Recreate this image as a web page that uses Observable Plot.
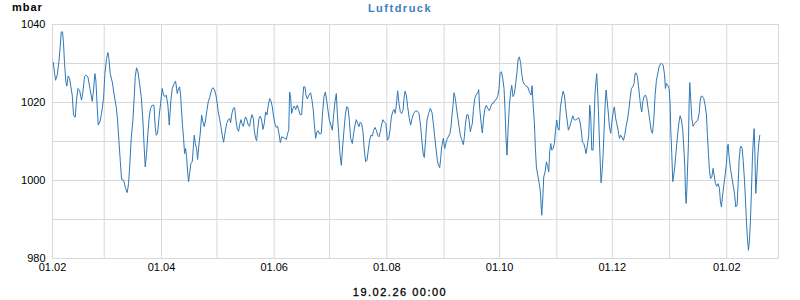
<!DOCTYPE html>
<html><head><meta charset="utf-8">
<script src="https://cdn.jsdelivr.net/npm/d3@7"></script>
<script src="https://cdn.jsdelivr.net/npm/@observablehq/plot@0.6"></script>
<style>
body{margin:0;background:#fff;}
#wrap{position:relative;width:800px;height:300px;font-family:"Liberation Sans",Arial,sans-serif;color:#000;}
#title{position:absolute;left:0;width:800px;top:2px;text-align:center;font-weight:bold;font-size:11px;letter-spacing:1.5px;color:#3d7ebf;}
#unit{position:absolute;left:12px;top:1px;font-weight:bold;font-size:11px;letter-spacing:1px;}
#caption{position:absolute;left:0;width:800px;top:286px;text-align:center;font-size:11px;letter-spacing:1.5px;-webkit-text-stroke:0.3px #000;}
#chart{position:absolute;left:0;top:0;}
#chart svg text{-webkit-text-stroke:0.3px #000;}
</style></head>
<body>
<div id="wrap">
  <div id="chart"></div>
  <div id="title">Luftdruck</div>
  <div id="unit">mbar</div>
  <div id="caption">19.02.26 00:00</div>
</div>
<script>
// Readings: [days since 01.02.2025, pressure in mbar]
const febMar = [[0.38,1030.3],[1.64,1025.7],[2.55,1027],[3.45,1030.4],[4.17,1034.3],[4.71,1038.1],[5.43,1038.1],[5.97,1035.1],[6.52,1030],[7.24,1025.3],[7.78,1024.2],[8.50,1026.8],[9.22,1026.2],[9.94,1024],[10.67,1021.9],[11.39,1016.8],[12.29,1016.2],[13.01,1020.6],[13.74,1023.6],[14.64,1023.2],[15.72,1020.6],[16.44,1022.7],[17.35,1026.6],[18.07,1027],[19.15,1026.6],[20.41,1023.2],[21.50,1020.3],[22.22,1023.2],[22.94,1027.4],[23.48,1025.7],[24.20,1018.9],[24.75,1014.2],[25.65,1015],[26.55,1017.2],[27.63,1021],[28.36,1027.4],[29.26,1031.3],[29.98,1032.8],[30.52,1031.3],[31.24,1027.4],[32.33,1025.3],[33.41,1021.9],[34.49,1018.9],[35.22,1015.5],[35.94,1010.3],[36.66,1005.2],[37.38,1000.3],[38.47,1000.1],[39.55,998],[40.45,996.9],[41.17,999.2],[41.89,1004.4],[42.62,1010.8],[43.52,1015.5],[44.24,1021.5],[44.78,1026.6],[45.51,1028.9],[46.23,1027.9],[47.13,1024.9],[48.03,1021.5],[48.93,1015.5],[49.66,1008.2],[50.20,1003.5],[50.92,1006.9],[51.64,1012.1],[52.36,1016.3],[53.09,1018.5],[53.99,1019.3],[54.89,1019.3],[55.61,1013.8],[56.16,1011.6],[56.88,1012.1],[57.78,1016.8],[58.50,1019.7],[59.40,1023.6],[60.13,1021.9],[60.85,1021.5],[61.57,1021.9],[62.47,1019.3]];
const aprMay = [[63.20,1014.2],[64.10,1020.6],[64.82,1023.6],[65.72,1024.7],[66.63,1025.5],[67.53,1022.3],[68.25,1023.6],[68.79,1024],[69.34,1021.9],[69.88,1017.6],[70.42,1013.8],[70.96,1010.8],[71.50,1006.9],[72.04,1008.2],[72.58,1006.1],[73.13,1002.2],[73.67,999.7],[74.21,1001.8],[74.93,1004.4],[75.65,1004.8],[76.19,1008.2],[76.74,1011.6],[77.28,1009.5],[78.0,1008.2],[78.54,1005.4],[79.26,1009.1],[79.99,1012.1],[80.71,1016.8],[81.43,1015],[82.15,1013.8],[82.87,1015.5],[83.59,1018],[84.32,1020.2],[85.22,1021.5],[86.12,1023.3],[86.84,1023.8],[87.75,1023.2],[88.47,1021.9],[89.19,1019.7],[89.73,1017.6],[90.45,1015.9],[91.18,1013.8],[91.90,1011.6],[92.62,1009.8],[93.34,1012.1],[94.25,1014.6],[95.15,1015.6],[95.87,1015.9],[96.41,1014.8],[97.13,1017.2],[97.86,1018.5],[98.58,1018.7],[99.30,1015.5],[100.02,1013.3],[100.74,1012.6],[101.29,1014.2],[102.01,1015.6],[102.55,1014.6],[103.27,1013.9],[103.99,1015.5],[104.53,1016.3],[105.26,1015.5],[105.98,1014.2],[106.70,1013.9],[107.24,1015.5],[107.96,1016.9],[108.69,1015.9],[109.23,1012.9],[109.95,1010.8],[110.49,1010.2],[111.03,1012.9],[111.75,1015.9],[112.48,1016.5],[113.20,1015.5],[113.92,1013.1],[114.64,1014.6],[115.37,1017.6],[116.09,1016.8],[116.81,1019.3],[117.53,1021],[118.25,1020.4],[118.98,1018.9],[119.70,1016.3],[120.42,1014.6],[121.14,1013.6],[121.86,1013.9],[122.59,1012.1],[123.31,1009.7],[124.03,1011.2],[124.93,1011],[125.83,1010.8],[126.56,1010.5],[127.28,1012.1],[127.9,1013]];
const junJul = [[128.36,1022.7],[128.90,1021.3],[129.45,1017.2],[130.17,1018.5],[130.89,1019.1],[131.61,1018.2],[132.51,1019.3],[133.24,1018.2],[133.96,1016.9],[134.86,1016.9],[135.40,1020.6],[135.94,1024],[136.67,1024],[137.21,1021.9],[137.93,1020.9],[138.83,1021.9],[139.73,1022.5],[140.46,1020.6],[141.18,1018],[141.72,1014.6],[142.44,1010.8],[143.16,1012.5],[143.89,1012.7],[144.61,1011.9],[145.51,1012.1],[146.23,1017.6],[146.95,1021.5],[147.68,1022.7],[148.40,1020.6],[149.12,1018],[149.84,1015.5],[150.75,1014.2],[151.47,1012.9],[152.19,1016.8],[152.91,1020.2],[153.63,1022.3],[154.17,1017.2],[154.90,1012.1],[155.62,1006.9],[156.34,1003.9],[157.06,1008.6],[157.79,1012.9],[158.51,1016.8],[159.23,1018.9],[159.95,1018.7],[160.67,1015.5],[161.40,1010.8],[162.30,1009.5],[163.02,1012.1],[163.74,1014.2],[164.46,1015.6],[165.19,1014.6],[165.91,1013.8],[166.63,1015],[167.35,1014.6],[168.07,1012.5],[168.80,1007.8],[169.52,1004.8],[170.24,1005.2],[170.96,1007.8],[171.68,1010.3],[172.41,1011.6],[173.13,1011.4],[173.85,1012.9],[174.57,1013.6],[175.29,1012.9],[176.02,1011.6],[176.74,1011.2],[177.46,1012.5],[178.18,1014.4],[178.90,1015.6],[179.63,1015],[180.53,1014.6],[181.25,1010.3],[181.97,1010.8],[182.70,1012.9],[183.42,1016.3],[184.14,1017.6],[184.86,1018.2],[185.58,1017.2],[186.31,1020.2],[186.85,1023],[187.57,1019.7],[188.29,1017.6],[189.01,1017.2],[189.74,1018],[190.28,1021],[190.82,1022.9],[191.54,1021.9],[192.26,1018.9]];
const augSep = [[193.16,1015.9],[193.88,1014.2],[194.61,1015.9],[195.51,1017.2],[196.41,1017.8],[197.49,1017.8],[198.40,1017.2],[199.30,1013.8],[200.02,1009.9],[200.74,1006.5],[201.28,1005.9],[202.01,1010.8],[202.73,1015.5],[203.63,1017.2],[204.53,1018.5],[205.44,1017.4],[206.16,1014.6],[206.88,1011.2],[207.60,1008.2],[208.32,1005.2],[208.87,1003.9],[209.59,1003.3],[210.13,1005.6],[210.67,1008.6],[211.57,1010.8],[212.30,1008.2],[213.02,1009.7],[213.74,1010.8],[214.46,1011.4],[215.18,1012.1],[215.73,1013.8],[216.27,1016.8],[216.81,1019.3],[217.35,1022.5],[218.07,1021],[218.61,1018.9],[219.34,1016.3],[220.06,1013.8],[220.78,1011.6],[221.50,1010.5],[222.40,1009.2],[222.95,1011.2],[223.49,1014.2],[224.21,1016.8],[224.93,1016.9],[225.47,1015.5],[226.20,1012.5],[226.74,1013.8],[227.28,1014.6],[227.82,1018],[228.54,1021],[229.26,1021.9],[230.17,1022.5],[230.71,1023.3],[231.25,1018.5],[231.97,1015],[232.69,1012.2],[233.42,1016.3],[234.14,1018.5],[234.86,1019.3],[235.58,1018.5],[236.48,1017.9],[237.21,1018.9],[237.93,1019.7],[238.83,1019.9],[239.55,1020.6],[240.27,1020.8],[241.00,1021.6],[241.72,1023.6],[242.26,1027.4],[242.98,1027.9],[243.70,1026.2],[244.43,1023.6],[244.97,1018],[245.51,1010.8],[246.05,1006.5],[246.59,1012.9],[247.31,1019.3],[248.04,1022.7],[248.58,1024.4],[249.30,1021.5],[250.02,1022.3],[250.74,1024.9],[251.47,1027.9],[252.01,1030.9],[252.73,1031.7],[253.45,1030],[253.99,1027.4],[254.72,1025.3],[255.44,1024.6],[256.34,1024.2],[257.24,1024]];
const octNov = [[258.33,1022.5],[259.05,1021.9],[259.60,1024.3],[260.14,1019.7],[260.86,1014.6],[261.40,1008.2],[261.94,1003.5],[262.66,1001.4],[263.39,999.5],[264.11,997.1],[264.47,993.7],[264.83,991.1],[265.37,995],[265.91,1000.9],[266.64,1002.2],[267.36,1004.8],[268.08,1003.5],[268.62,1002.2],[269.16,1007.4],[269.70,1009.5],[270.25,1007.8],[270.97,1008.2],[271.69,1009.5],[272.23,1012.5],[272.95,1015.5],[273.49,1013.6],[274.22,1012.9],[274.94,1018.7],[275.66,1021],[276.38,1022.9],[277.10,1021.9],[277.83,1018.5],[278.55,1015.5],[279.27,1012.9],[279.99,1013.8],[280.72,1015],[281.62,1016.6],[282.34,1015.6],[283.24,1015.5],[283.96,1015.8],[284.87,1016.1],[285.59,1015],[286.31,1012.5],[286.85,1009.9],[287.57,1009.5],[288.30,1008.2],[288.84,1006.9],[289.56,1009.1],[290.28,1011.6],[290.82,1019.3],[291.37,1016.3],[291.91,1007.8],[292.63,1007.8],[293.17,1015.5],[293.71,1022.7],[294.25,1025.7],[294.61,1027.4],[294.98,1024],[295.52,1018],[296.06,1010.3],[296.60,1003.5],[296.96,999.4],[297.50,1002.2],[298.04,1006.5],[298.59,1012.9],[299.13,1019.3],[299.67,1023.2],[300.21,1020.6],[300.75,1018],[301.47,1013.8],[302.20,1012.1],[302.92,1015.5],[303.64,1018],[304.18,1018.9],[304.72,1016.3],[305.44,1014.6],[306.17,1012.9],[306.89,1010.8],[307.61,1011.6],[308.33,1011],[309.06,1010.3],[309.78,1011.6],[310.50,1013.9],[311.22,1015.5],[311.94,1018],[312.67,1021],[313.39,1023.6],[314.11,1024],[314.83,1024.9],[315.37,1027.4],[315.92,1027.6],[316.64,1026.6],[317.18,1024.4],[317.90,1021],[318.44,1018.9],[318.98,1017.6],[319.53,1020.2],[320.25,1021.6],[320.97,1021.9],[321.69,1021],[322.41,1018.5]];
const decFeb = [[323.31,1015.5],[324.03,1012.9],[324.76,1012.1],[325.48,1015.5],[326.20,1021.9],[326.92,1025.7],[327.64,1027.4],[328.37,1029.1],[329.09,1029.9],[329.81,1030],[330.53,1029.6],[331.25,1027.4],[331.80,1023.6],[332.34,1024.9],[333.06,1024.4],[333.78,1023.6],[334.32,1019.7],[334.68,1012.9],[335.23,1006.9],[335.77,999.7],[336.31,1001.4],[336.85,1003.5],[337.39,1006.5],[337.93,1009.5],[338.47,1012.1],[339.02,1014.6],[339.74,1016.6],[340.46,1015.5],[341.18,1012.9],[341.72,1008.6],[342.27,1003.5],[342.63,997.5],[342.99,994.1],[343.35,997.1],[343.71,1002.2],[344.25,1009.5],[344.61,1019.7],[344.97,1025.1],[345.51,1020.6],[346.06,1015.9],[346.78,1013.9],[347.50,1014.6],[348.40,1015],[349.31,1015.5],[350.03,1017.2],[350.57,1020.2],[351.11,1021.6],[351.83,1021.6],[352.55,1021],[353.28,1019.3],[354.00,1016.8],[354.54,1011.6],[355.08,1006.9],[355.62,1002.6],[356.16,1000.5],[356.89,1000.9],[357.61,1003.1],[358.15,1001.4],[358.87,999.2],[359.59,998.5],[360.32,999.2],[361.04,997.9],[361.58,994.5],[362.12,993.2],[362.66,995.8],[363.39,998.8],[364.11,1001.4],[364.83,1004.4],[365.37,1008.6],[365.73,1009.3],[366.27,1006.1],[366.99,1003.1],[367.72,1000.9],[368.44,998.8],[369.16,996.7],[369.88,993.2],[370.61,993.7],[371.15,999.2],[371.69,1005.2],[372.23,1008.2],[372.77,1008.8],[373.31,1008.2],[373.86,1005.2],[374.58,1000.1],[375.12,995],[375.66,989.4],[376.20,985.1],[376.74,982.1],[377.29,984.7],[377.83,989.8],[378.37,997.5],[378.91,1006.1],[379.45,1011.2],[379.81,1013.3],[380.17,1007.8],[380.71,996.7],[381.25,1000.9],[381.80,1006.1],[382.34,1009.5],[382.88,1011.6]];

const startDate = "2025-02-01";
const endDate = "2026-03-01";
const yTickLabels = [980, 1000, 1020, 1040];
const yGrid = [980, 990, 1000, 1010, 1020, 1030, 1040];
const xTickLabels = ["2025-02-01","2025-04-01","2025-06-01","2025-08-01","2025-10-01","2025-12-01","2026-02-01"];

const t0 = new Date(startDate + "T00:00:00Z").getTime();
const data = [...febMar, ...aprMay, ...junJul, ...augSep, ...octNov, ...decFeb]
  .map(([d, p]) => ({date: new Date(t0 + d * 86400000), p}));
const x0 = new Date(startDate + "T00:00:00Z"), x1 = new Date(endDate + "T00:00:00Z");
const monthGrid = d3.utcMonth.range(x0, x1);

const chart = Plot.plot({
  width: 800, height: 300,
  marginLeft: 52, marginRight: 22, marginTop: 24, marginBottom: 42,
  style: {fontFamily: '"Liberation Sans", Arial, sans-serif', fontSize: "11px", color: "#000", background: "transparent"},
  x: {type: "utc", domain: [x0, x1]},
  y: {domain: [980, 1040]},
  marks: [
    Plot.gridY(yGrid, {stroke: "#d8d8d8", strokeOpacity: 1}),
    Plot.gridX(monthGrid, {stroke: "#d8d8d8", strokeOpacity: 1}),
    Plot.frame({stroke: "#d8d8d8"}),
    Plot.axisY(yTickLabels, {tickSize: 0, tickPadding: 7, label: null, fill: "#000", tickFormat: d => String(d)}),
    Plot.axisX(xTickLabels.map(s => new Date(s + "T00:00:00Z")), {tickSize: 0, tickPadding: 5, label: null, tickFormat: d3.utcFormat("%d.%m"), fill: "#000"}),
    Plot.line(data, {x: "date", y: "p", stroke: "#2f78b7", strokeWidth: 1})
  ]
});
document.getElementById("chart").appendChild(chart);
</script>
</body></html>
